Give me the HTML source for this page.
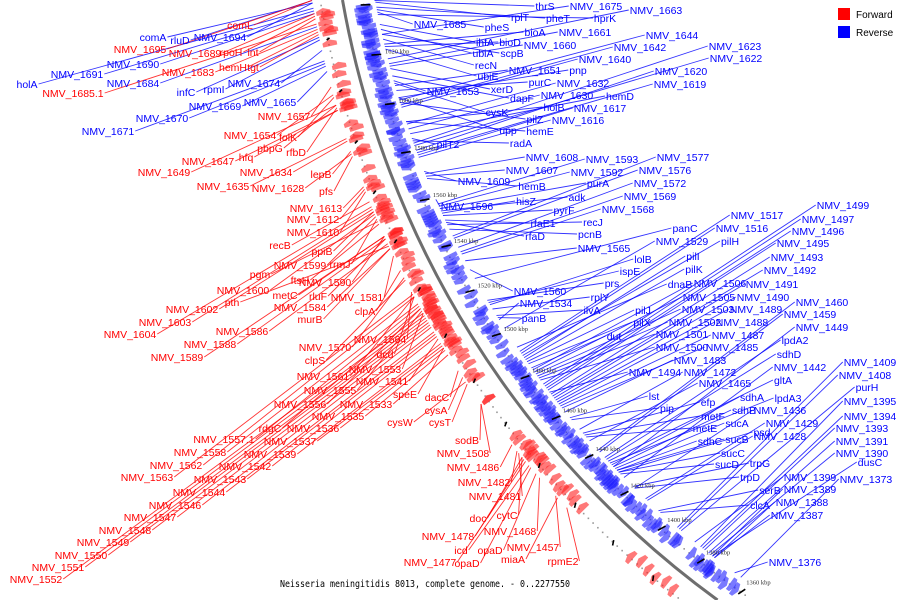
<!DOCTYPE html>
<html><head><meta charset="utf-8"><style>
html,body{margin:0;padding:0;background:#fff;width:900px;height:600px;overflow:hidden}
svg{display:block;overflow:hidden}
text{font-family:"Liberation Sans","DejaVu Sans",sans-serif}
</style></head><body>
<svg id="chart" width="900" height="600" viewBox="0 0 900 600" xmlns="http://www.w3.org/2000/svg">
<g id="leaders"></g>
<g id="dots"></g>
<g id="feats"></g>
<path id="arc" d="M342.5,0 A946,946 0 0 0 717.5,600" fill="none" stroke="#6e6e6e" stroke-width="3"/>
<g id="ticks"></g>
<g id="labels"></g>
<text x="425" y="587" text-anchor="middle" font-size="9.5" textLength="290" lengthAdjust="spacingAndGlyphs" style="font-family:'DejaVu Sans Mono','Liberation Mono',monospace">Neisseria meningitidis 8013, complete genome. - 0..2277550</text>
<g>
<rect x="838" y="8" width="12" height="12" fill="#ff0000"/>
<text x="856" y="18" font-size="10">Forward</text>
<rect x="838" y="26" width="12" height="12" fill="#0000ff"/>
<text x="856" y="36" font-size="10">Reverse</text>
</g>
</svg>
<script>
// ---- data ----
const tickKbp = [1360,1380,1400,1420,1440,1460,1480,1500,1520,1540,1560,1580,1600,1620,1640];
const blueNames = ["NMV_1685","thrS","rplT","pheT","hprK","NMV_1675","NMV_1663","pheS","ihfA","bioA","bioD","NMV_1661","NMV_1660","NMV_1644","NMV_1642","NMV_1623","NMV_1622","ubiA","scpB","NMV_1640","recN","NMV_1651","pnp","NMV_1620","ubiE","purC","NMV_1632","NMV_1619","NMV_1653","xerD","NMV_1630","hemD","dapF","holB","NMV_1617","cysK","pilZ","NMV_1616","upp","hemE","pilT2","radA","NMV_1608","NMV_1593","NMV_1577","NMV_1607","NMV_1592","NMV_1576","hemB","purA","NMV_1572","NMV_1609","adk","NMV_1569","NMV_1596","hisZ","pyrF","NMV_1568","rfaE1","recJ","rfaD","pcnB","NMV_1565","panC","NMV_1517","NMV_1499","NMV_1497","NMV_1496","NMV_1495","NMV_1516","NMV_1529","pilH","NMV_1493","pilI","NMV_1492","lolB","pilK","ispE","NMV_1491","NMV_1560","prs","dnaB","NMV_1506","NMV_1534","rplY","NMV_1505","NMV_1490","NMV_1460","ilvA","pilJ","NMV_1503","NMV_1489","NMV_1459","panB","pilX","NMV_1502","NMV_1488","NMV_1449","dut","NMV_1501","NMV_1487","lpdA2","NMV_1500","NMV_1485","sdhD","NMV_1483","NMV_1442","NMV_1409","NMV_1494","NMV_1472","NMV_1408","gltA","NMV_1465","purH","lst","lpdA3","sdhA","NMV_1395","pip","efp","sdhB","NMV_1436","NMV_1394","metF","sucA","NMV_1429","NMV_1393","metE","psd","NMV_1428","NMV_1391","sdhC","sucB","sucC","NMV_1390","sucD","trpG","dusC","NMV_1373","trpD","NMV_1399","serB","NMV_1389","clcA","NMV_1388","NMV_1387","NMV_1376","comA","rluD","NMV_1694","NMV_1690","NMV_1691","holA","NMV_1684","infC","rpmI","NMV_1674","NMV_1669","NMV_1665","NMV_1670","NMV_1671"];
const blueKbp = [1635,1641,1639,1637,1634,1626,1616,1636,1630,1622,1621,1614,1613,1599,1597,1581,1580,1628,1626,1596,1624,1605,1600,1578,1620,1603,1589,1577,1607,1612,1587,1585,1609,1590,1576,1606,1598,1575,1600,1590,1583,1582,1568,1555,1541,1567,1554,1540,1566,1553,1536,1569,1552,1534,1557,1551,1550,1533,1548,1546,1547,1544,1530,1522,1488,1472,1471,1470,1469,1487,1499,1486,1467,1485,1466,1510,1484,1511,1465,1526,1512,1490,1479,1503,1508,1478,1464,1438,1505,1483,1477,1463,1437,1504,1482,1476,1462,1429,1480,1475,1461,1434,1474,1460,1433,1458,1423,1394,1468,1449,1393,1432,1443,1392,1455,1431,1430,1382,1454,1447,1429,1417,1381,1446,1428,1411,1380,1445,1426,1410,1378,1427,1427,1426,1377,1425,1418,1376,1362,1417,1385,1404,1376,1403,1375,1375,1365,1643,1644,1643,1639,1640,1641,1634,1630,1629,1625,1619,1617,1620,1621];
const redNames = ["comL","NMV_1695","NMV_1689","rpoH","lnt","NMV_1683","hemH","tgt","NMV_1685.1","NMV_1657","NMV_1654","folK","pbpG","rfbD","hfq","NMV_1647","NMV_1649","NMV_1634","lepB","NMV_1635","NMV_1628","pfs","NMV_1613","NMV_1612","NMV_1610","recB","ppiB","NMV_1599","rrmJ","pgm","ftsH","NMV_1590","NMV_1600","metC","rluF","NMV_1581","pth","murB","NMV_1584","NMV_1602","NMV_1603","NMV_1586","NMV_1604","NMV_1588","clpA","NMV_1589","NMV_1570","NMV_1564","clpS","dcd","NMV_1553","NMV_1561","NMV_1541","NMV_1555","speE","NMV_1556","NMV_1533","dacC","NMV_1535","cysA","rdgC","NMV_1536","cysW","cysT","NMV_1557.1","NMV_1537","NMV_1558","NMV_1539","sodB","NMV_1562","NMV_1542","NMV_1508","NMV_1563","NMV_1543","NMV_1486","NMV_1544","NMV_1482","NMV_1546","NMV_1481","NMV_1547","cytC","doc","NMV_1548","NMV_1478","NMV_1468","NMV_1549","NMV_1457","icd","opaD","NMV_1550","miaA","rpmE2","NMV_1477","opaD","NMV_1551","NMV_1552"];
const redKbp = [1646,1644,1639,1638,1637,1633,1632,1631,1635,1611,1608,1607,1604,1603,1602,1602,1604,1590,1586,1591,1585,1584,1572,1571,1570,1566,1562,1560,1559,1558,1557,1552,1561,1552,1551,1544,1548,1547,1547,1562,1563,1549,1564,1551,1538,1552,1535,1529,1534,1527,1520,1527,1509,1521,1505,1522,1502,1495,1504,1492,1522,1505,1490,1489,1523,1506,1524,1507,1480,1527,1510,1480,1528,1511,1461,1512,1458,1514,1457,1515,1455,1455,1516,1454,1445,1517,1436,1451,1447,1518,1435,1430,1453,1450,1519,1520];
const extraFwdKbp = [1642,1627,1618,1615,1596,1594,1578,1574,1542,1540,1532,1525,1517,1513,1500,1498,1463,1449,1441,1438,1432,1426,1400,1396,1392,1388,1384,1380,1376,1372,1368,1364];
const extraRevKbp = [1632,1618,1611,1604,1601,1594,1592,1571,1563,1561,1531,1528,1519,1516,1501,1496,1493,1456,1452,1451,1448,1444,1440,1436,1421,1415,1413,1408,1406,1402,1399,1397,1372,1370,1368,1363];

// ---- layout (label positions are placement, not data) ----
const blueLabelPos = [[440,24],[545,6],[520,17],[558,18],[605,18],[596,6],[656,10],[497,27],[485,42],[535,32],[510,42],[585,32],[550,45],[672,35],[640,47],[735,46],[736,58],[483,53],[512,53],[605,59],[486,65],[535,70],[578,70],[681,71],[488,76],[540,82],[583,83],[680,84],[453,91],[502,89],[567,95],[620,96],[522,98],[554,107],[600,108],[497,112],[535,119],[578,120],[508,130],[540,131],[448,144],[521,143],[552,157],[612,159],[683,157],[532,170],[597,172],[665,170],[532,186],[598,183],[660,183],[484,181],[577,197],[650,196],[467,206],[526,201],[564,210],[628,209],[543,223],[593,222],[535,236],[590,234],[604,248],[685,228],[757,215],[843,205],[828,219],[818,231],[803,243],[742,228],[682,241],[730,241],[797,257],[693,256],[790,270],[643,259],[694,269],[630,271],[772,284],[540,291],[612,283],[680,284],[720,283],[546,303],[600,297],[709,297],[763,297],[822,302],[592,310],[643,310],[708,309],[756,309],[810,314],[534,318],[642,322],[695,322],[742,322],[822,327],[614,336],[682,334],[738,335],[795,340],[682,347],[732,347],[789,354],[700,360],[800,367],[870,362],[655,372],[710,372],[865,375],[783,380],[725,383],[867,387],[654,396],[788,398],[752,397],[870,401],[667,408],[708,402],[744,410],[780,410],[870,416],[713,416],[737,423],[792,423],[862,428],[705,428],[762,432],[780,436],[862,441],[710,441],[737,439],[733,453],[862,453],[727,464],[760,463],[870,462],[866,479],[750,477],[810,477],[770,490],[810,489],[760,505],[802,502],[797,515],[795,562],[153,37],[180,40],[220,37],[133,64],[77,74],[27,84],[133,83],[186,92],[214,89],[254,83],[215,106],[270,102],[162,118],[108,131]];
const redLabelPos = [[240,25],[140,49],[195,53],[231,52],[253,52],[188,72],[233,67],[253,67],[73,93],[284,116],[250,135],[288,137],[270,148],[296,152],[246,157],[208,161],[164,172],[266,172],[321,174],[223,186],[278,188],[326,191],[316,208],[313,219],[313,232],[280,245],[322,251],[300,265],[340,264],[260,274],[300,280],[325,282],[243,290],[285,295],[318,296],[357,297],[232,302],[310,319],[300,307],[192,309],[165,322],[242,331],[130,334],[210,344],[365,311],[177,357],[325,347],[380,339],[315,360],[385,354],[375,369],[323,376],[382,381],[330,390],[405,394],[300,404],[366,404],[437,397],[338,416],[436,410],[270,428],[313,428],[400,422],[440,422],[224,439],[290,441],[200,452],[270,454],[467,440],[176,465],[245,466],[463,453],[147,477],[220,479],[473,467],[199,492],[484,482],[175,505],[495,496],[150,517],[507,515],[478,518],[125,530],[448,536],[510,531],[103,542],[533,547],[461,550],[490,550],[81,555],[513,559],[563,561],[430,562],[467,563],[58,567],[36,579]];

// ---- axis functions ----
const CX = 1274, CY = -165, R = 946;
function ang(k){ return (166.3 + (k - 1620) * 0.158) * Math.PI / 180; }
function pt(k, rad){ const a = ang(k); return [CX + rad * Math.cos(a), CY + rad * Math.sin(a)]; }
function inFrame(p){ return p[0] >= 1 && p[0] <= 899 && p[1] >= 1 && p[1] <= 598; }
const NS = "http://www.w3.org/2000/svg";
function mk(tag, parent){ const e = document.createElementNS(NS, tag); parent.appendChild(e); return e; }

const gLead = document.getElementById('leaders');
const gFeat = document.getElementById('feats');
const gLab = document.getElementById('labels');
const gTick = document.getElementById('ticks');
const gDots = document.getElementById('dots');

// ruler dots
for (let k = 1350; k <= 1650; k += 2.5) {
  [R - 20, R + 22].forEach(rr => {
    const p = pt(k, rr);
    if (!inFrame(p)) return;
    const d = mk('rect', gDots);
    
    
    d.setAttribute('x', p[0] - 0.8); d.setAttribute('y', p[1] - 0.8);
    d.setAttribute('width', 1.6); d.setAttribute('height', 1.6); d.setAttribute('fill', '#999');
  });
}

// ticks
tickKbp.forEach(k => {
  const a = pt(k, R - 17), b = pt(k, R - 24);
  if (inFrame(a) && inFrame(b)) {
    const t = mk('line', gTick);
    
    
    t.setAttribute('x1', a[0]); t.setAttribute('y1', a[1]); t.setAttribute('x2', b[0] + 3); t.setAttribute('y2', b[1] + 1);
    t.setAttribute('stroke', '#000'); t.setAttribute('stroke-width', 1.6);
  }
  const o1 = pt(k + 10, R + 20), o2 = pt(k + 10, R + 26);
  if (inFrame(o1) && inFrame(o2)) {
    const t2 = mk('line', gTick);
    
    
    t2.setAttribute('x1', o1[0]); t2.setAttribute('y1', o1[1]); t2.setAttribute('x2', o2[0] + 3); t2.setAttribute('y2', o2[1] + 1);
    t2.setAttribute('stroke', '#000'); t2.setAttribute('stroke-width', 1.6);
  }
  const lp = pt(k, R - 31);
  if (lp[1] < 4 || lp[1] > 594) return;
  const tx = mk('text', gTick);
  
  
  tx.setAttribute('x', lp[0]); tx.setAttribute('y', lp[1] + 2);
  tx.setAttribute('font-size', '6.5'); tx.setAttribute('fill', '#333');
  tx.setAttribute('style', "font-family:'Liberation Serif',serif");
  tx.textContent = k + ' kbp';
});

// features (small chevrons)
function feature(k, strand, idx){
  const sgn = strand > 0 ? 1 : -1;
  const off = (idx % 3) * 2;
  const r1 = R + sgn * (10 + off), r2 = R + sgn * (24 + off);
  const dir = strand > 0 ? 1 : -1;
  const a0 = pt(k, r1), a1 = pt(k, r2);
  const tip = pt(k + dir * 2.4, (r1 + r2) / 2);
  const b0 = pt(k + dir * 1.4, r1), b1 = pt(k + dir * 1.4, r2);
  const pts = [a0, b0, tip, b1, a1];
  if (!pts.every(inFrame)) return;
  const p0 = mk('polygon', gFeat);
  
  
  p0.setAttribute('points', pts.map(q => q[0].toFixed(1) + ',' + q[1].toFixed(1)).join(' '));
  p0.setAttribute('fill', strand > 0 ? '#ff2020' : '#2020ff');
  p0.setAttribute('fill-opacity', '0.6');
  p0.setAttribute('stroke', strand > 0 ? '#ff6060' : '#6060ff');
  p0.setAttribute('stroke-width', '0.3');
}
redKbp.forEach((k, i) => feature(k, 1, i));
extraFwdKbp.forEach((k, i) => feature(k, 1, i + 1));
blueKbp.forEach((k, i) => feature(k, -1, i));
extraRevKbp.forEach((k, i) => feature(k, -1, i + 2));

// labels + leaders
function label(name, k, pos, color){
  const t = mk('text', gLab);
  
  
  t.setAttribute('x', pos[0]); t.setAttribute('y', pos[1] + 4);
  t.setAttribute('text-anchor', 'middle');
  t.setAttribute('font-size', '10.5');
  t.setAttribute('fill', color);
  t.textContent = name;
  const w = t.getComputedTextLength ? t.getComputedTextLength() : name.length * 6;
  const dist = Math.hypot(pos[0] - CX, pos[1] - CY);
  const outside = dist > R;
  let end = pt(k + 1, outside ? R + 30 : R - 32);
  end = [Math.min(899, Math.max(1, end[0])), Math.min(599, Math.max(0.5, end[1]))];
  const sx = outside ? pos[0] + w / 2 + 1 : pos[0] - w / 2 - 1;
  const l = mk('line', gLead);
  
  
  l.setAttribute('x1', sx); l.setAttribute('y1', pos[1]);
  l.setAttribute('x2', end[0]); l.setAttribute('y2', end[1]);
  l.setAttribute('stroke', color); l.setAttribute('stroke-width', '0.9');
  l.setAttribute('stroke-opacity', '0.8');
}
blueNames.forEach((n, i) => label(n, blueKbp[i], blueLabelPos[i], '#0000ff'));
redNames.forEach((n, i) => label(n, redKbp[i], redLabelPos[i], '#ff0000'));
</script>
</body></html>
